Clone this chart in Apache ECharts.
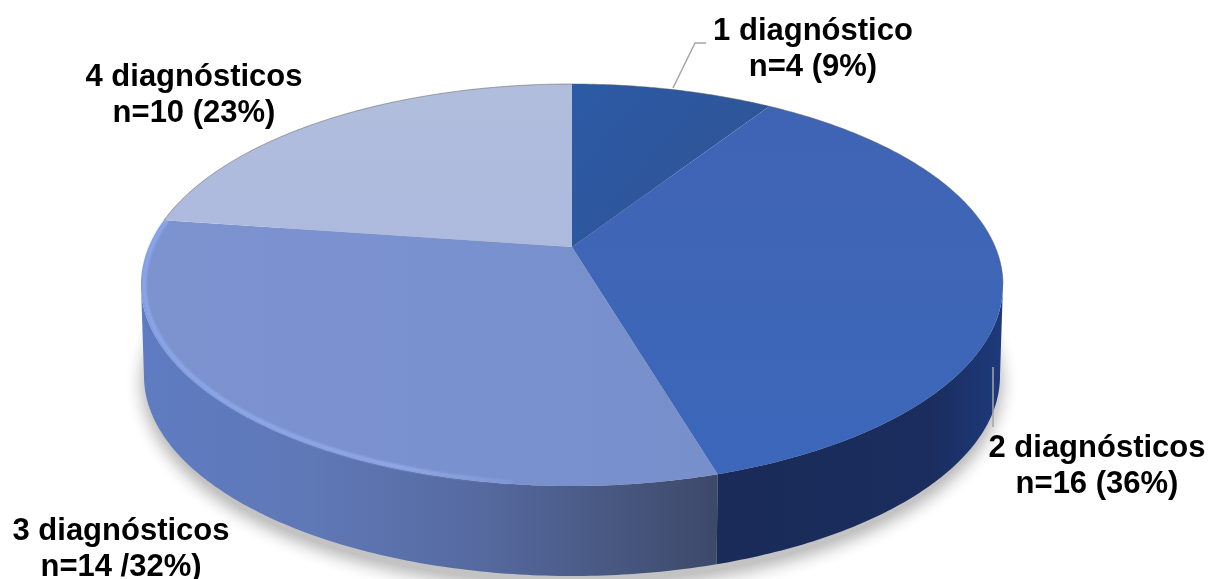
<!DOCTYPE html>
<html>
<head>
<meta charset="utf-8">
<style>html,body{margin:0;padding:0;background:#fff}#chart{width:1210px;height:579px}</style>
<script src="https://cdn.jsdelivr.net/npm/echarts@6/dist/echarts.min.js"></script>
</head>
<body>
<div id="chart"></div>
<script>
// Patients by number of diagnoses
var categories = ['1 diagnóstico', '2 diagnósticos', '3 diagnósticos', '4 diagnósticos'];
var counts = [4, 16, 14, 10];
var countLabels = ['n=4 (9%)', 'n=16 (36%)', 'n=14 /32%)', 'n=10 (23%)'];

// Tilted disc: elliptical rims, with perspective pulling the true centre upward
var TOP = { cx: 572, cy: 285, rx: 431, ry: 201 };
var BOTTOM = { cx: 572, cy: 376, rx: 428, ry: 200 };
var TILT = -0.189;

var faceFill = [
  grad(0, 0, 1, 1, '#2c5aa6', '#2f5392'),
  grad(0, 0, 0, 1, '#4064b4', '#3c67ba'),
  grad(0, 0, 1, 0, '#7c93d0', '#7790cc'),
  grad(0, 0, 0, 1, '#b0bddc', '#adbade')
];
var sideStops = [
  null,
  [[0, '#1a2b58'], [0.75, '#1a2d5e'], [1, '#1e3a7c']],
  [[0, '#5f7cc2'], [0.3, '#5f78b6'], [0.6, '#55699f'], [1, '#3d4969']],
  null
];
var labelPlaces = [[813, 49], [1097, 466], [121, 549], [194, 95]];
var leaders = [
  [[673, 88], [695, 43], [706, 43]],
  [[993, 367], [993, 427]]
];

function grad(x, y, x2, y2, a, b) {
  return new echarts.graphic.LinearGradient(x, y, x2, y2, [
    { offset: 0, color: a }, { offset: 1, color: b }
  ]);
}

// Disc point for an angle measured clockwise from twelve o'clock, r in 0..1
function discPoint(angle, r, rim) {
  var u = r * Math.sin(angle), v = -r * Math.cos(angle);
  var d = 1 + TILT * v;
  var X = u * Math.sqrt(1 - TILT * TILT) / d;
  var Y = (v + TILT) / d;
  return [rim.cx + rim.rx * X, rim.cy + rim.ry * Y];
}

function arc(a0, a1, rim, r) {
  var pts = [], steps = Math.max(6, Math.ceil((a1 - a0) * 80));
  for (var s = 0; s <= steps; s++) pts.push(discPoint(a0 + (a1 - a0) * s / steps, r === undefined ? 1 : r, rim));
  return pts;
}

// Index of the point furthest out sideways: the silhouette's tangent on that rim
function extremeIndex(pts, sign) {
  var best = 0;
  pts.forEach(function (p, j) { if (p[0] * sign > pts[best][0] * sign) best = j; });
  return best;
}

var total = counts.reduce(function (a, b) { return a + b; }, 0);

function renderSlice(params, api) {
  var i = api.value(0), n = api.value(1);
  var before = 0;
  for (var k = 0; k < i; k++) before += counts[k];
  var a0 = before / total * Math.PI * 2;
  var a1 = (before + n) / total * Math.PI * 2;
  var topArc = arc(a0, a1, TOP);
  var botArc = arc(a0, a1, BOTTOM);
  var kids = [];

  // soft ground shadow under the disc, built from faint widening outlines
  if (i === 0) {
    for (var g = 20; g >= 0; g--) {
      var grow = g * 1.1;
      kids.push({
        type: 'polygon', z2: 0,
        shape: { points: arc(0, Math.PI * 2, { cx: BOTTOM.cx, cy: BOTTOM.cy + 7, rx: BOTTOM.rx + grow - 4, ry: BOTTOM.ry + grow }) },
        style: { fill: 'rgba(70,70,70,' + (0.006 + 0.0011 * (20 - g)).toFixed(4) + ')' }
      });
    }
  }
  if (sideStops[i]) {
    // front wall between the rims, closed along the silhouette tangents
    var topPart, botPart;
    if (i === 1) {
      topPart = topArc.slice(extremeIndex(topArc, 1));
      botPart = botArc.slice(extremeIndex(botArc, 1));
    } else {
      topPart = topArc.slice(0, extremeIndex(topArc, -1) + 1);
      botPart = botArc.slice(0, extremeIndex(botArc, -1) + 1);
    }
    var xs = topPart.concat(botPart).map(function (p) { return p[0]; });
    var minX = Math.min.apply(null, xs), maxX = Math.max.apply(null, xs);
    kids.push({
      type: 'polygon', z2: 1,
      shape: { points: topPart.concat(botPart.slice().reverse()) },
      style: {
        fill: new echarts.graphic.LinearGradient(minX, 0, maxX, 0,
          sideStops[i].map(function (s) { return { offset: s[0], color: s[1] }; }), true)
      }
    });
  }
  kids.push({
    type: 'polygon', z2: 2,
    shape: { points: [discPoint(0, 0, TOP)].concat(topArc) },
    style: { fill: faceFill[i] }
  });

  // bevel along the rim of the disc
  if (i === 2) {
    var cut = a0 + (a1 - a0) * 0.2;
    [[7, 0.2], [5, 0.3], [3, 0.5]].forEach(function (layer) {
      kids.push({
        type: 'polyline', z2: 3,
        shape: { points: arc(cut, a1, TOP, 0.993) },
        style: {
          fill: null, lineWidth: layer[0],
          stroke: new echarts.graphic.LinearGradient(140, 0, 540, 0, [
            { offset: 0, color: 'rgba(141,170,240,' + layer[1] + ')' },
            { offset: 0.65, color: 'rgba(150,172,236,' + layer[1] + ')' },
            { offset: 1, color: 'rgba(150,172,236,0)' }
          ], true)
        }
      });
    });
  }
  // thin dark edge along the far rim
  var farEnd = i === 1 ? extremeIndex(topArc, 1) + 1 : topArc.length;
  if (i === 0 || i === 1 || i === 3) {
    kids.push({
      type: 'polyline', z2: 3,
      shape: { points: topArc.slice(0, farEnd) },
      style: { fill: null, stroke: 'rgba(90,90,90,0.5)', lineWidth: 1 }
    });
  }

  // leader lines
  if (leaders[i]) {
    kids.push({
      type: 'polyline', z2: 4,
      shape: { points: leaders[i] },
      style: { fill: null, stroke: '#a6a6a6', lineWidth: 1.5 }
    });
  }

  // two-line label
  kids.push({
    type: 'text', z2: 5,
    style: {
      text: categories[i] + '\n' + countLabels[i],
      x: labelPlaces[i][0], y: labelPlaces[i][1],
      textAlign: 'center', textVerticalAlign: 'middle',
      font: 'bold 31px "Liberation Sans", Arial, sans-serif',
      lineHeight: 36, fill: '#000'
    }
  });
  return { type: 'group', children: kids };
}

var chart = echarts.init(document.getElementById('chart'), null, { renderer: 'canvas' });
chart.setOption({
  animation: false,
  backgroundColor: '#ffffff',
  series: [{
    type: 'custom',
    coordinateSystem: 'none',
    silent: true,
    clip: false,
    renderItem: renderSlice,
    data: counts.map(function (n, i) { return [i, n]; })
  }]
});
</script>
</body>
</html>
